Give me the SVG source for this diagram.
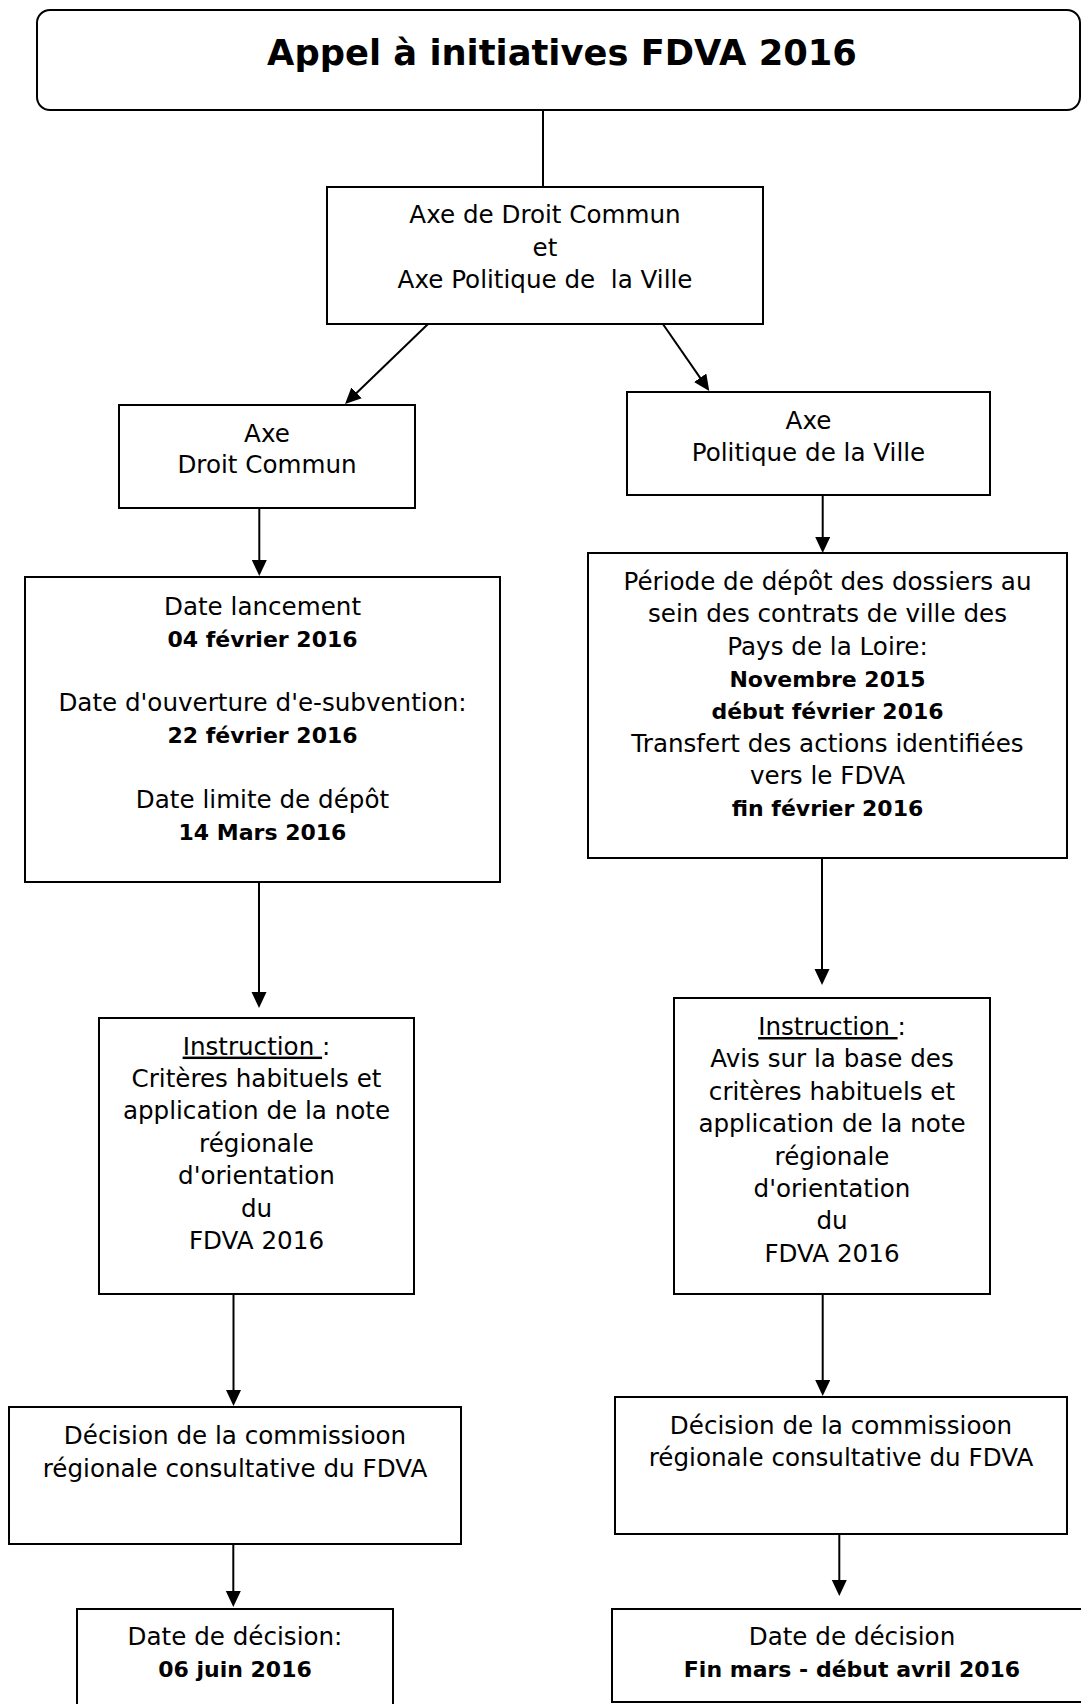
<svg xmlns="http://www.w3.org/2000/svg" width="1081" height="1704" viewBox="0 0 1081 1704">
  <style>
    .box { fill: #ffffff; stroke: #000000; stroke-width: 2; }
    .t { font-family: "DejaVu Sans", "Liberation Sans", sans-serif; font-size: 24.6px; fill: #000000; text-anchor: middle; white-space: pre; }
    .b { font-weight: bold; font-size: 22px; }
    .title { font-family: "DejaVu Sans", "Liberation Sans", sans-serif; font-size: 35.3px; font-weight: bold; fill: #000000; text-anchor: middle; }
    .u { text-decoration: underline; }
    .c { fill: none; stroke: #000000; stroke-width: 2; }
    .a { marker-end: url(#arrow); }
  </style>
  <defs>
    <marker id="arrow" markerUnits="userSpaceOnUse" viewBox="0 0 16 16" markerWidth="16" markerHeight="16" refX="8" refY="7.5" orient="auto">
      <path d="M0,0 L16,7.5 L0,15 Z" fill="#000000"/>
    </marker>
  </defs>
  <rect width="1081" height="1704" fill="#ffffff"/>

  <g id="connectors">
    <path class="c" d="M543,110 L543,187"/>
    <path class="c a" d="M428.3,323.7 L350.8,398.5"/>
    <path class="c a" d="M662.7,323.7 L704.7,384.4"/>
    <path class="c a" d="M259.3,508 L259.3,568"/>
    <path class="c a" d="M822.7,495 L822.7,545"/>
    <path class="c a" d="M259,882 L259,1000"/>
    <path class="c a" d="M822,858 L822,977"/>
    <path class="c a" d="M233.5,1294 L233.5,1398"/>
    <path class="c a" d="M822.7,1294 L822.7,1388"/>
    <path class="c a" d="M233.3,1544 L233.3,1599"/>
    <path class="c a" d="M839.3,1534 L839.3,1588"/>
  </g>

  <g id="title">
    <rect class="box" x="37" y="10" width="1043" height="100" rx="13" ry="13"/>
    <text class="title" x="562" y="65">Appel à initiatives FDVA 2016</text>
  </g>

  <g id="axes">
    <rect class="box" x="327" y="187" width="436" height="137"/>
    <text class="t" x="545" y="223">Axe de Droit Commun</text>
    <text class="t" x="545" y="255.5">et</text>
    <text class="t" x="545" y="288">Axe Politique de  la Ville</text>
  </g>

  <g id="axe-droit-commun">
    <rect class="box" x="119" y="405" width="296" height="103"/>
    <text class="t" x="267" y="441.7">Axe</text>
    <text class="t" x="267" y="473">Droit Commun</text>
  </g>

  <g id="axe-politique-ville">
    <rect class="box" x="627" y="392" width="363" height="103"/>
    <text class="t" x="808.5" y="428.5">Axe</text>
    <text class="t" x="808.5" y="461">Politique de la Ville</text>
  </g>

  <g id="dates-droit-commun">
    <rect class="box" x="25" y="577" width="475" height="305"/>
    <text class="t" x="262.5" y="614.5">Date lancement</text>
    <text class="t b" x="262.5" y="646.7">04 février 2016</text>
    <text class="t" x="262.5" y="711.1">Date d'ouverture d'e-subvention:</text>
    <text class="t b" x="262.5" y="743.3">22 février 2016</text>
    <text class="t" x="262.5" y="807.7">Date limite de dépôt</text>
    <text class="t b" x="262.5" y="839.9">14 Mars 2016</text>
  </g>

  <g id="periode-depot">
    <rect class="box" x="588" y="553" width="479" height="305"/>
    <text class="t" x="827.5" y="590">Période de dépôt des dossiers au</text>
    <text class="t" x="827.5" y="622.3">sein des contrats de ville des</text>
    <text class="t" x="827.5" y="654.6">Pays de la Loire:</text>
    <text class="t b" x="827.5" y="686.9">Novembre 2015</text>
    <text class="t b" x="827.5" y="719.2">début février 2016</text>
    <text class="t" x="827.5" y="751.5">Transfert des actions identifiées</text>
    <text class="t" x="827.5" y="783.8">vers le FDVA</text>
    <text class="t b" x="827.5" y="816.1">fin février 2016</text>
  </g>

  <g id="instruction-droit-commun">
    <rect class="box" x="99" y="1018" width="315" height="276"/>
    <text class="t" x="256.5" y="1054.6"><tspan class="u">Instruction </tspan>:</text>
    <text class="t" x="256.5" y="1087">Critères habituels et</text>
    <text class="t" x="256.5" y="1119.4">application de la note</text>
    <text class="t" x="256.5" y="1151.8">régionale</text>
    <text class="t" x="256.5" y="1184.2">d'orientation</text>
    <text class="t" x="256.5" y="1216.6">du</text>
    <text class="t" x="256.5" y="1249">FDVA 2016</text>
  </g>

  <g id="instruction-politique-ville">
    <rect class="box" x="674" y="998" width="316" height="296"/>
    <text class="t" x="832" y="1035"><tspan class="u">Instruction </tspan>:</text>
    <text class="t" x="832" y="1067.4">Avis sur la base des</text>
    <text class="t" x="832" y="1099.8">critères habituels et</text>
    <text class="t" x="832" y="1132.2">application de la note</text>
    <text class="t" x="832" y="1164.6">régionale</text>
    <text class="t" x="832" y="1197">d'orientation</text>
    <text class="t" x="832" y="1229.4">du</text>
    <text class="t" x="832" y="1261.8">FDVA 2016</text>
  </g>

  <g id="decision-droit-commun">
    <rect class="box" x="9" y="1407" width="452" height="137"/>
    <text class="t" x="235" y="1444">Décision de la commissioon</text>
    <text class="t" x="235" y="1476.7">régionale consultative du FDVA</text>
  </g>

  <g id="decision-politique-ville">
    <rect class="box" x="615" y="1397" width="452" height="137"/>
    <text class="t" x="841" y="1433.5">Décision de la commissioon</text>
    <text class="t" x="841" y="1466">régionale consultative du FDVA</text>
  </g>

  <g id="date-decision-droit-commun">
    <rect class="box" x="77" y="1609" width="316" height="105"/>
    <text class="t" x="235" y="1645">Date de décision:</text>
    <text class="t b" x="235" y="1677">06 juin 2016</text>
  </g>

  <g id="date-decision-politique-ville">
    <rect class="box" x="612" y="1609" width="480" height="93"/>
    <text class="t" x="852" y="1645">Date de décision</text>
    <text class="t b" x="852" y="1677">Fin mars - début avril 2016</text>
  </g>
</svg>
